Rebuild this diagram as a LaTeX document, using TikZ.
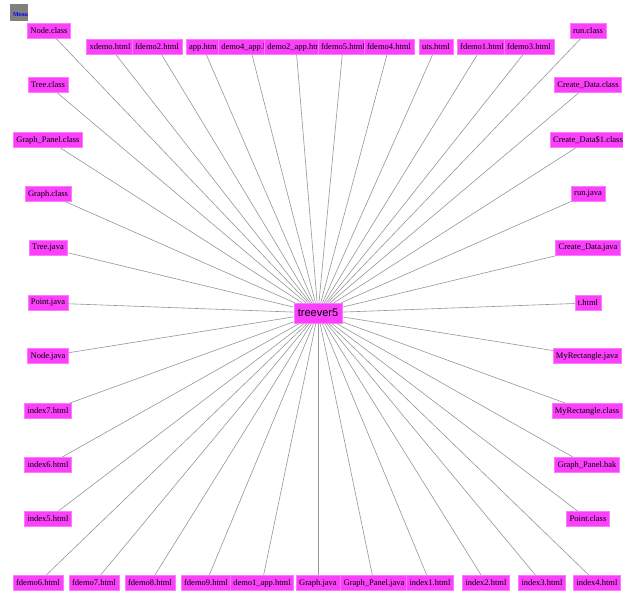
\documentclass[tikz,border=0pt]{standalone}
\usepackage{fontspec}
\setmainfont{Liberation Serif}
\newfontfamily\cfont{Liberation Sans}
\usetikzlibrary{backgrounds}
\definecolor{mag}{RGB}{250,64,250}
\definecolor{magedge}{RGB}{255,120,255}
\definecolor{lin}{RGB}{150,150,150}
\definecolor{menugray}{RGB}{128,128,128}
\pgfdeclarelayer{edges}
\pgfdeclarelayer{bgl}
\pgfsetlayers{bgl,edges,main}
\tikzset{
  fnode/.style={fill=mag, draw=magedge, line width=0.5pt,
    font=\fontsize{8.5}{9}\selectfont, inner xsep=3pt, inner ysep=0pt,
    minimum height=15pt, text=black},
  cnode/.style={fill=mag, draw=magedge, line width=0.5pt,
    font=\cfont\fontsize{11}{12}\selectfont, inner xsep=4pt, inner ysep=0pt,
    minimum height=20pt, text=black},
  conn/.style={draw=lin, line width=0.6pt},
  menubox/.style={fill=menugray, draw=none, minimum width=18pt, minimum height=17pt, inner sep=0pt},
  menutext/.style={text=blue, font=\bfseries\fontsize{6}{6}\selectfont, inner sep=0pt}
}
\begin{document}
\begin{tikzpicture}[x=1pt,y=-1pt]
\useasboundingbox (0,0) rectangle (623,596);
\begin{pgfonlayer}{bgl}
\fill[white] (0,0) rectangle (623,596);
\end{pgfonlayer}
% menu
\node[menubox] (menu) at (19,12.5) {};
\node[menutext] (menulab) at (20.5,15) {Menu};
% center
\node[cnode] (tv) at (318,313) {treever5};
% outer nodes
\foreach \nm/\px/\py/\lab in {
  nodeclass/49/31/Node.class,
  treeclass/48/85/Tree.class,
  gpclass/48/140/Graph\_Panel.class,
  graphclass/48/194/Graph.class,
  treejava/48/248/Tree.java,
  pointjava/48/303/Point.java,
  nodejava/48/356/Node.java,
  indexseven/48/411/index7.html,
  indexsix/48/465/index6.html,
  indexfive/48/519/index5.html,
  fdemosix/38/583/fdemo6.html,
  fdemoseven/94/583/fdemo7.html,
  fdemoeight/150/583/fdemo8.html,
  fdemonine/206/583/fdemo9.html,
  demoone/262/583/demo1\_app.html,
  graphjava/318/583/Graph.java,
  gpjava/374/583/Graph\_Panel.java,
  indexone/430/583/index1.html,
  indextwo/486/583/index2.html,
  indexthree/542/583/index3.html,
  indexfour/597/583/index4.html,
  pointclass/588/519/Point.class,
  gpbak/587/465/Graph\_Panel.bak,
  myrclass/587/411/MyRectangle.class,
  myrjava/587/356/MyRectangle.java,
  thtml/588/303/t.html,
  cdjava/588/248/Create\_Data.java,
  runjava/588/194/run.java,
  cdoneclass/588/140/Create\_Data\$1.class,
  cdclass/588/85/Create\_Data.class,
  runclass/588/31/run.class,
  xdemo/110/47/xdemo.html,
  fdemotwo/157/47/fdemo2.html,
  apphtm/203/47/app.htm,
  demofour/250/47/demo4\_app.html,
  demotwo/296/47/demo2\_app.html,
  fdemofive/343/47/fdemo5.html,
  fdemofour/389/47/fdemo4.html,
  uts/436/47/uts.html,
  fdemoone/482/47/fdemo1.html,
  fdemothree/529/47/fdemo3.html%
}{
  \node[fnode] (\nm) at (\px,\py) {\lab};
}
\begin{pgfonlayer}{edges}
\foreach \nm in {nodeclass,treeclass,gpclass,graphclass,treejava,pointjava,nodejava,
  indexseven,indexsix,indexfive,fdemosix,fdemoseven,fdemoeight,fdemonine,demoone,
  graphjava,gpjava,indexone,indextwo,indexthree,indexfour,pointclass,gpbak,myrclass,
  myrjava,thtml,cdjava,runjava,cdoneclass,cdclass,runclass,xdemo,fdemotwo,apphtm,
  demofour,demotwo,fdemofive,fdemofour,uts,fdemoone,fdemothree}{
  \draw[conn] (tv) -- (\nm);
}
\end{pgfonlayer}
\end{tikzpicture}
\end{document}
